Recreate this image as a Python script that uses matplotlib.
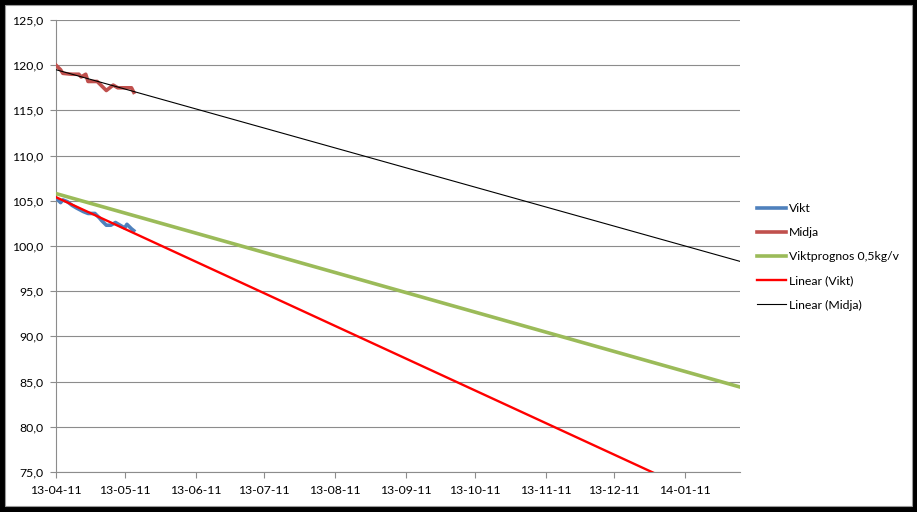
import matplotlib
matplotlib.use("Agg")
import matplotlib.pyplot as plt
import matplotlib.dates as mdates
import numpy as np
import pandas as pd
from matplotlib.patches import Rectangle

# ---- data ----
start = pd.Timestamp("2013-04-11")
end = pd.Timestamp("2014-02-04")

vikt_days = [0, 2, 3, 5, 7, 9, 12, 14, 17, 19, 20, 22, 24, 26, 28, 30, 31, 33, 34]
vikt_vals = [105.3, 104.8, 105.1, 104.9, 104.5, 104.2, 103.8, 103.6, 103.6, 103.1,
             102.8, 102.3, 102.3, 102.6, 102.3, 102.0, 102.4, 101.9, 101.7]

midja_days = [0, 2, 3, 7, 10, 11, 13, 14, 18, 22, 25, 27, 33, 34]
midja_vals = [120.0, 119.5, 119.1, 119.0, 119.0, 118.7, 119.0, 118.2, 118.2,
              117.2, 117.8, 117.5, 117.5, 117.0]

prognos_dates = [start, end]
prognos_vals = [105.8, 84.4]

trend_vikt_dates = [start, end]
trend_vikt_vals = [105.4, 70.5]

trend_midja_dates = [start, end]
trend_midja_vals = [119.5, 98.3]

tick_dates = pd.date_range("2013-04-01", "2014-01-01", freq="MS") + pd.Timedelta(days=10)
y_ticks = [75, 80, 85, 90, 95, 100, 105, 110, 115, 120, 125]

labels = ["Vikt", "Midja", "Viktprognos 0,5kg/v", "Linear (Vikt)", "Linear (Midja)"]
colors = ["#4F81BD", "#C0504D", "#9BBB59", "#FF0000", "#000000"]

vikt_dates = [start + pd.Timedelta(days=d) for d in vikt_days]
midja_dates = [start + pd.Timedelta(days=d) for d in midja_days]

# ---- figure ----
W, H = 917, 512
fig = plt.figure(figsize=(W / 100, H / 100), dpi=100)
fig.patch.set_facecolor("black")
fig.patches.append(Rectangle((5 / W, 6 / H), (912 - 5) / W, (506 - 5) / H,
                             transform=fig.transFigure, facecolor="white",
                             edgecolor="#9a9a9a", linewidth=0.8, zorder=-10))

ax = fig.add_axes([56 / W, (H - 472) / H, (740 - 56) / W, (472 - 20) / H])
ax.set_zorder(1)
ax.set_facecolor("white")

lw = 2.6
ax.plot(vikt_dates, vikt_vals, color=colors[0], lw=lw, label=labels[0], zorder=3)
ax.plot(midja_dates, midja_vals, color=colors[1], lw=lw, label=labels[1], zorder=3)
ax.plot(prognos_dates, prognos_vals, color=colors[2], lw=lw, label=labels[2], zorder=3)
ax.plot(trend_vikt_dates, trend_vikt_vals, color=colors[3], lw=1.7, label=labels[3], zorder=4)
ax.plot(trend_midja_dates, trend_midja_vals, color=colors[4], lw=0.8, label=labels[4], zorder=4)

ax.set_xlim(start, end)
ax.set_ylim(75, 125)
ax.set_yticks(y_ticks)
ax.set_yticklabels([f"{v:.1f}".replace(".", ",") for v in y_ticks])
ax.set_xticks(tick_dates)
ax.xaxis.set_major_formatter(mdates.DateFormatter("%y-%m-%d"))

ax.grid(axis="y", color="#8c8c8c", lw=0.8)
ax.set_axisbelow(True)
for s in ["top", "right"]:
    ax.spines[s].set_visible(False)
for s in ["left", "bottom"]:
    ax.spines[s].set_color("#8c8c8c")
    ax.spines[s].set_linewidth(0.8)

ax.tick_params(axis="both", direction="out", length=4.3, width=0.8, color="#8c8c8c",
               labelsize=8.8, labelcolor="black")
ax.tick_params(axis="y", pad=5)
ax.tick_params(axis="x", pad=5)
for t in ax.get_xticklabels() + ax.get_yticklabels():
    t.set_fontfamily("Lato")

leg = ax.legend(loc="upper left", bbox_to_anchor=(752 / W, (H - 198) / H),
                bbox_transform=fig.transFigure, frameon=False,
                prop={"family": "Lato", "size": 8.8}, handlelength=2.4,
                handletextpad=0.2, labelspacing=1.08, borderaxespad=0)

fig.savefig("out.png", dpi=100, facecolor=fig.get_facecolor())
